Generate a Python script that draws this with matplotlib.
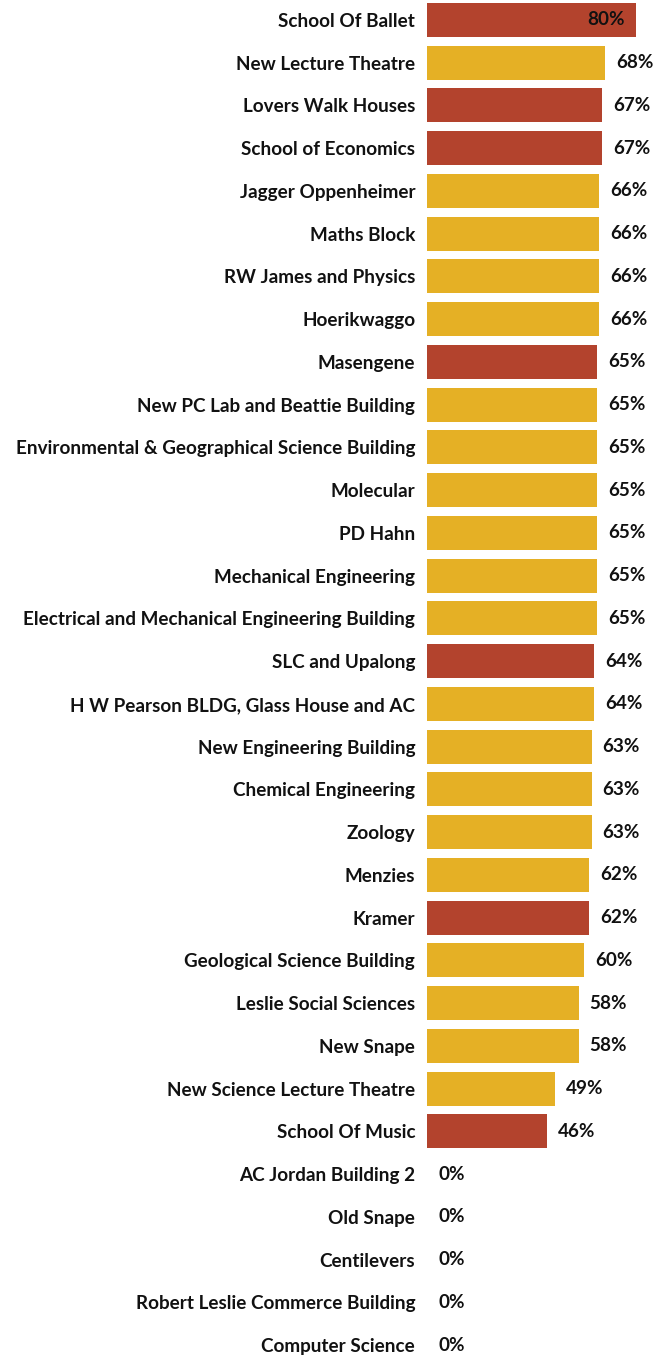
import matplotlib.pyplot as plt

plt.rcParams['font.family'] = ['Lato', 'DejaVu Sans']

# Data
buildings = ["School Of Ballet", "New Lecture Theatre", "Lovers Walk Houses",
             "School of Economics", "Jagger Oppenheimer", "Maths Block",
             "RW James and Physics", "Hoerikwaggo", "Masengene",
             "New PC Lab and Beattie Building",
             "Environmental & Geographical Science Building", "Molecular",
             "PD Hahn", "Mechanical Engineering",
             "Electrical and Mechanical Engineering Building", "SLC and Upalong",
             "H W Pearson BLDG, Glass House and AC", "New Engineering Building",
             "Chemical Engineering", "Zoology", "Menzies", "Kramer",
             "Geological Science Building", "Leslie Social Sciences", "New Snape",
             "New Science Lecture Theatre", "School Of Music",
             "AC Jordan Building 2", "Old Snape", "Centilevers",
             "Robert Leslie Commerce Building", "Computer Science"]
percent = [80, 68, 67, 67, 66, 66, 66, 66, 65, 65, 65, 65, 65, 65, 65, 64,
           64, 63, 63, 63, 62, 62, 60, 58, 58, 49, 46, 0, 0, 0, 0, 0]
residence = ["School Of Ballet", "Lovers Walk Houses", "School of Economics",
             "Masengene", "SLC and Upalong", "Kramer", "School Of Music"]

red = "#b3432d"
yellow = "#e5b025"
text_col = "#111111"

colors = [red if b in residence else yellow for b in buildings]
y = list(range(len(buildings)))

fig = plt.figure(figsize=(6.67, 13.55), dpi=100)
ax = fig.add_axes([427 / 667, 0, 240 / 667, 1])

ax.barh(y, percent, height=0.795, color=colors)

ax.set_xlim(0, 80 * 240 / 209)
ax.set_ylim(31 + 10 / 42.75, -20 / 42.75)

ax.set_yticks(y)
ax.set_yticklabels(buildings, fontsize=13.6, fontweight='bold', color=text_col)
ax.tick_params(axis='y', length=0, pad=8.5)
ax.set_xticks([])
for s in ax.spines.values():
    s.set_visible(False)

for i, v in enumerate(percent):
    if v >= 75:
        ax.annotate(f"{v}%", (v, i), xytext=(-8, 0), textcoords='offset points',
                    ha='right', va='center', fontsize=13.6, fontweight='bold',
                    color=text_col)
    else:
        ax.annotate(f"{v}%", (v, i), xytext=(8, 0), textcoords='offset points',
                    ha='left', va='center', fontsize=13.6, fontweight='bold',
                    color=text_col)

plt.savefig("out.png", dpi=100)
